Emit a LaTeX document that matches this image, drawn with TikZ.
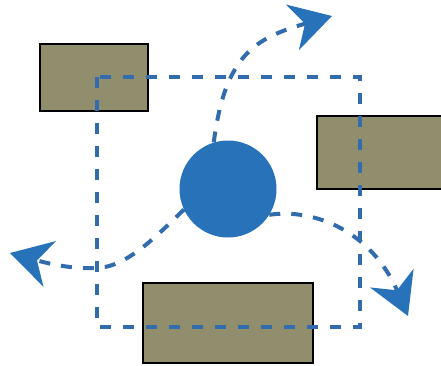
\documentclass[tikz,border=0pt]{standalone}
\usepackage{tikz}
\usetikzlibrary{arrows.meta, positioning, calc}
\usepackage{xcolor}
\definecolor{botblue}{RGB}{40,114,186}
\definecolor{pathblue}{RGB}{50,108,172}
\definecolor{obstaclefill}{RGB}{145,142,110}

\begin{document}
\begin{tikzpicture}[
    x=1pt, y=-1pt,
    obstacle/.style={
        draw=black,
        line width=1.8pt,
        fill=obstaclefill,
        inner sep=0pt
    },
    robot/.style={
        circle,
        fill=botblue,
        inner sep=0pt,
        minimum size=97pt
    },
    sweep/.style={
        draw=pathblue,
        line width=4pt,
        dash pattern=on 11pt off 12pt
    },
    escape/.style={
        draw=pathblue,
        line width=4pt,
        dash pattern=on 11pt off 11pt,
        -{Stealth[length=41pt, width=47pt, inset=13pt, color=botblue]}
    }
]
\clip (0,0) rectangle (441,365);

% Nodes
\node[obstacle, minimum width=108pt, minimum height=67pt] (nw) at (94,77.5) {};
\node[obstacle, minimum width=140pt, minimum height=73pt] (east) at (387,152.5) {};
\node[obstacle, minimum width=170pt, minimum height=80pt] (south) at (228,323) {};

\node[robot] (bot) at (228,189) {};

\coordinate (tipN) at (332,16);
\coordinate (tipW) at (10,253);
\coordinate (tipSE) at (408,316);

% Dashed loop round the robot
\draw[sweep] (97,77) rectangle (360,327);

% Escape paths
\draw[escape] (bot.107) .. controls (225,55) and (255,38) .. (tipN);

\draw[escape] (bot.205) .. controls (155,238) and (130,262) .. (105,267)
    .. controls (80,271) and (50,264) .. (tipW);

\draw[escape] (bot.-32) .. controls (315,208) and (372,232) .. (tipSE);

\end{tikzpicture}
\end{document}
